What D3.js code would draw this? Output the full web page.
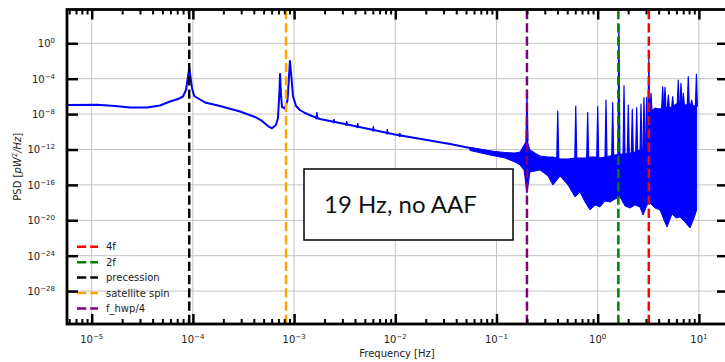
<!DOCTYPE html>
<html>
<head>
<meta charset="utf-8">
<script src="https://cdn.jsdelivr.net/npm/d3@7"></script>
<style>
  html, body { margin: 0; padding: 0; background: #fff; }
  svg { display: block; font-family: "DejaVu Sans", sans-serif; }
</style>
</head>
<body>
<div id="chart"></div>
<script>
// ----- DATA -----
// Smooth part of the PSD (frequency in Hz, PSD in pW^2/Hz)
const lineFreq = [5.5e-6, 1.13e-5, 1.70e-5, 2.39e-5, 3.52e-5, 4.73e-5, 5.94e-5, 7.13e-5, 7.98e-5, 8.55e-5,
  9.2e-5, 9.8e-5, 1.03e-4, 1.175e-4, 1.32e-4, 1.85e-4, 2.92e-4, 4.11e-4, 4.82e-4, 5.52e-4,
  6.05e-4, 6.62e-4, 6.93e-4, 7.18e-4, 7.26e-4, 7.43e-4, 7.59e-4, 8.13e-4, 8.61e-4, 9.1e-4,
  9.42e-4, 9.75e-4, 1.045e-3, 1.14e-3, 1.28e-3, 1.50e-3, 1.80e-3, 3.56e-3, 9.9e-3, 3.48e-2,
  5.47e-2, 0.108];
const linePsd = [1.07e-7, 1.15e-7, 8.2e-8, 5.57e-8, 5.6e-8, 9.4e-8, 2.65e-7, 5.08e-7, 9.75e-7, 5.28e-6,
  1.62e-3, 8.9e-6, 1.11e-6, 4.47e-7, 2.05e-7, 8.2e-8, 1.97e-8, 4.7e-9, 1.66e-9, 4.5e-10,
  2.48e-10, 5.9e-10, 3.6e-9, 5.3e-6, 3.4e-4, 1.44e-6, 6.3e-8, 4.3e-8, 3.9e-7, 1.0e-2,
  1.2e-4, 1.11e-6, 8.2e-8, 2.9e-8, 1.33e-8, 6.1e-9, 2.8e-9, 5.9e-10, 4.95e-11, 4.2e-12,
  1.48e-12, 4.0e-13];

// Small bumps sitting on the smooth part
const bumpFreq = [1.68e-3, 2.48e-3, 3.31e-3, 4.25e-3, 6.07e-3, 8.34e-3, 1.11e-2];
const bumpPsd = [1.7e-8, 2.8e-9, 1.66e-9, 9.9e-10, 4.5e-10, 2.07e-10, 7.3e-11];

// Noisy part: lower and upper envelope of the blue band
const bandFreq = [0.0547, 0.0863, 0.121, 0.152, 0.171, 0.187, 0.200, 0.214, 0.269, 0.323,
  0.361, 0.425, 0.509, 0.597, 0.668, 0.750, 0.840, 0.940, 1.054, 1.180,
  1.324, 1.483, 1.660, 1.862, 2.085, 2.339, 2.618, 2.805, 3.069, 3.289,
  3.681, 4.130, 4.519, 4.842, 5.420, 5.943, 6.501, 7.295, 8.166, 8.954, 9.5];
const bandHigh = [1.68e-12, 6.8e-13, 4.6e-13, 4.0e-13, 5.2e-13, 3.2e-12, 1.18e-11, 8.8e-13, 1.85e-13, 1.42e-13,
  1.42e-13, 8.5e-14, 8.5e-14, 1.10e-13, 1.10e-13, 1.10e-13, 1.42e-13, 1.42e-13, 1.10e-13, 1.42e-13,
  1.85e-13, 2.4e-13, 3.1e-13, 3.1e-13, 4.0e-13, 5.2e-13, 8.8e-13, 1.48e-12, 1.18e-11, 1.73e-8,
  4.9e-8, 3.77e-8, 8.2e-8, 4.9e-8, 6.3e-8, 1.38e-7, 1.80e-7, 1.07e-7, 1.38e-7, 8.2e-8, 1.07e-7];
const bandLow = [7.7e-13, 2.4e-13, 1.10e-13, 3.9e-14, 1.77e-14, 4.8e-15, 1.22e-17, 2.9e-15, 4.8e-15, 1.01e-15,
  9.8e-17, 1.01e-15, 9.8e-17, 4.3e-18, 1.58e-17, 1.17e-18, 1.46e-19, 5.4e-19, 3.2e-19, 1.52e-18,
  1.17e-18, 2.55e-18, 4.3e-18, 4.1e-19, 2.45e-19, 5.4e-19, 3.2e-19, 4.0e-20, 5.4e-19, 9.0e-19,
  2.45e-19, 1.46e-19, 1.08e-20, 1.75e-21, 5.2e-20, 1.82e-20, 2.36e-20, 6.4e-21, 1.35e-21, 1.82e-20, 1.46e-19];

// Narrow peaks sticking out of the noise
const peakFreq = [0.200, 0.403, 0.607, 0.796, 1.0, 1.208, 1.406, 1.62, 1.820, 2.006,
  2.198, 2.428, 2.679, 2.866, 3.048, 3.2, 3.365, 4.387, 4.624, 4.989,
  5.508, 6.252, 6.653, 7.015, 7.852, 8.49, 9.45];
const peakPsd = [1.44e-6, 2.24e-8, 8.2e-8, 1.6e-8, 6.9e-8, 3.9e-7, 1.94e-7, 1e2, 1.62e-5, 1.07e-7,
  3.5e-8, 5.3e-8, 1.38e-7, 7.1e-7, 7.9e-7, 1.5e-2, 2.24e-6, 1.25e-5, 1.07e-5, 1.44e-6,
  9.2e-7, 7.1e-5, 3.0e-5, 2.42e-6, 1.68e-4, 3.9e-7, 3.1e-4];

// Vertical marker lines (legend order)
const markerNames = ["4f", "2f", "precession", "satellite spin", "f_hwp/4"];
const markerFreq = [3.2, 1.6, 9.2e-5, 8.33e-4, 0.2];
const markerColors = ["red", "green", "black", "orange", "purple"];

// Ticks (powers of ten)
const xTickExp = [-5, -4, -3, -2, -1, 0, 1];
const yTickExp = [0, -4, -8, -12, -16, -20, -24, -28];

// ----- SIZES -----
const width = 725, height = 362;
const margins = { top: 9.5, right: -3, bottom: 38, left: 67 };
const x0 = margins.left, x1 = width - margins.right;
const yTop = margins.top, yBot = height - margins.bottom;

const svg = d3.select("#chart")
  .append("svg")
  .attr("width", width)
  .attr("height", height);

// ----- SCALES -----
const x = d3.scaleLog()
  .domain([10 ** -5.244, 10 ** 1.2876])
  .range([x0, x1]);

const y = d3.scaleLog()
  .domain([10 ** -31.72, 10 ** 3.819])
  .range([yBot, yTop]);

// Minor x ticks 2..9 x 10^k inside the domain
const xMinor = [];
for (let k = -6; k <= 1; k++) {
  for (let m = 2; m <= 9; m++) {
    const v = m * 10 ** k;
    if (v > x.domain()[0] && v < x.domain()[1]) xMinor.push(v);
  }
}
const xMajor = xTickExp.map(e => 10 ** e);
const yMajor = yTickExp.map(e => 10 ** e);

svg.append("defs").append("clipPath").attr("id", "plot")
  .append("rect")
  .attr("x", x0).attr("y", yTop)
  .attr("width", x1 - x0).attr("height", yBot - yTop);

// ----- GRID -----
const grid = svg.append("g").attr("stroke", "#c4c4c4").attr("stroke-width", 1);
grid.selectAll(".gx").data(xMajor).join("line")
  .attr("x1", d => x(d)).attr("x2", d => x(d))
  .attr("y1", yTop).attr("y2", yBot);
grid.selectAll(".gy").data(yMajor).join("line")
  .attr("class", "gy")
  .attr("x1", x0).attr("x2", x1)
  .attr("y1", d => y(d)).attr("y2", d => y(d));

// ----- DATA MARKS -----
const plot = svg.append("g").attr("clip-path", "url(#plot)");

// helper: piecewise interpolation in log-log space (used for spike bases)
function logInterp(xs, ys) {
  const s = d3.scaleLinear()
    .domain(xs.map(Math.log10))
    .range(ys.map(Math.log10))
    .clamp(true);
  return f => 10 ** s(Math.log10(f));
}
const lineAt = logInterp(lineFreq, linePsd);
const bandAt = logInterp(bandFreq, bandHigh);

const spikePath = (f, base, peak) => {
  const px = x(f), yb = y(base) + 1, yp = y(peak);
  return `M${px - 1},${yb}L${px},${yp}L${px + 1},${yb}Z`;
};

// noise band
const band = bandFreq.map((f, i) => ({ f, lo: bandLow[i], hi: bandHigh[i] }));
plot.append("path")
  .datum(band)
  .attr("fill", "blue")
  .attr("stroke", "blue")
  .attr("stroke-width", 1)
  .attr("d", d3.area()
    .x(d => x(d.f))
    .y0(d => y(d.lo))
    .y1(d => y(d.hi)));

// smooth line
plot.append("path")
  .datum(lineFreq.map((f, i) => [f, linePsd[i]]))
  .attr("fill", "none")
  .attr("stroke", "blue")
  .attr("stroke-width", 2)
  .attr("stroke-linejoin", "round")
  .attr("d", d3.line().x(d => x(d[0])).y(d => y(d[1])));

// bumps on the line
plot.selectAll(".bump")
  .data(bumpFreq.map((f, i) => [f, bumpPsd[i]]))
  .join("path")
  .attr("fill", "blue").attr("stroke", "blue").attr("stroke-width", 1)
  .attr("d", d => spikePath(d[0], lineAt(d[0]), d[1]));

// peaks in the noisy part
plot.selectAll(".peak")
  .data(peakFreq.map((f, i) => [f, peakPsd[i]]))
  .join("path")
  .attr("fill", "blue").attr("stroke", "blue").attr("stroke-width", 1.2)
  .attr("stroke-linejoin", "round")
  .attr("d", d => spikePath(d[0], bandAt(d[0]), d[1]));

// ----- MARKER LINES -----
plot.selectAll(".marker")
  .data(markerFreq)
  .join("line")
  .attr("x1", d => x(d)).attr("x2", d => x(d))
  .attr("y1", yBot).attr("y2", yTop)
  .attr("stroke", (d, i) => markerColors[i])
  .attr("stroke-width", 2.5)
  .attr("stroke-dasharray", "9.25,4");

// ----- TEXT BOX -----
const box = svg.append("g");
box.append("rect")
  .attr("x", 304).attr("y", 169)
  .attr("width", 209).attr("height", 71)
  .attr("fill", "white")
  .attr("stroke", "black")
  .attr("stroke-width", 1.5);
box.append("text")
  .attr("x", 324).attr("y", 213)
  .style("font-family", "Lato, 'Open Sans', sans-serif")
  .style("font-size", "24px")
  .attr("fill", "#111")
  .text("19 Hz, no AAF");

// ----- LEGEND -----
const legend = svg.append("g")
  .attr("transform", "translate(77, 246.8)");
markerNames.forEach((name, i) => {
  const g = legend.append("g").attr("transform", `translate(0, ${i * 15.4})`);
  g.append("line")
    .attr("x1", 0).attr("x2", 21)
    .attr("stroke", markerColors[i])
    .attr("stroke-width", 2.5)
    .attr("stroke-dasharray", "9.25,4");
  g.append("text")
    .attr("x", 29).attr("dy", "0.35em")
    .style("font-size", "10px")
    .attr("fill", "#222")
    .text(name);
});

// ----- TICKS (inward, on all four sides) -----
function ticks(axis, values, size, strokeW, transform) {
  const g = svg.append("g")
    .attr("transform", transform)
    .call(axis.tickValues(values).tickSize(size).tickFormat(""));
  g.select(".domain").remove();
  g.selectAll(".tick line").attr("stroke", "black").attr("stroke-width", strokeW);
}
ticks(d3.axisBottom(x), xMinor, -5, 2, `translate(0,${yBot})`);
ticks(d3.axisBottom(x), xMajor, -10, 2.5, `translate(0,${yBot})`);
ticks(d3.axisTop(x), xMinor, -5, 2, `translate(0,${yTop})`);
ticks(d3.axisTop(x), xMajor, -10, 2.5, `translate(0,${yTop})`);
ticks(d3.axisLeft(y), yMajor, -11, 2.5, `translate(${x0},0)`);
ticks(d3.axisRight(y), yMajor, -11, 2.5, `translate(${x1},0)`);

// spines
svg.append("rect")
  .attr("x", x0).attr("y", yTop)
  .attr("width", x1 - x0).attr("height", yBot - yTop)
  .attr("fill", "none")
  .attr("stroke", "black")
  .attr("stroke-width", 2.8);

// ----- TICK LABELS -----
const supText = e => (e < 0 ? "\u2212" + (-e) : String(e));

svg.append("g").selectAll("text")
  .data(xTickExp)
  .join("text")
  .attr("x", e => x(10 ** e))
  .attr("y", 343)
  .attr("text-anchor", "middle")
  .style("font-size", "10px")
  .attr("fill", "#222")
  .call(t => {
    t.append("tspan").text("10");
    t.append("tspan").attr("dy", -4).style("font-size", "7px").text(e => supText(e));
  });

svg.append("g").selectAll("text")
  .data(yTickExp)
  .join("text")
  .attr("x", 55)
  .attr("y", e => y(10 ** e) + 4)
  .attr("text-anchor", "end")
  .style("font-size", "10px")
  .attr("fill", "#222")
  .call(t => {
    t.append("tspan").text("10");
    t.append("tspan").attr("dy", -4).style("font-size", "7px").text(e => supText(e));
  });

// ----- AXIS TITLES -----
svg.append("text")
  .attr("x", (x0 + 728) / 2 - 0.5)
  .attr("y", 357)
  .attr("text-anchor", "middle")
  .style("font-size", "10px")
  .attr("fill", "#222")
  .text("Frequency [Hz]");

const yTitle = svg.append("text")
  .attr("transform", `translate(21, ${(yTop + yBot) / 2}) rotate(-90)`)
  .attr("text-anchor", "middle")
  .style("font-size", "10px")
  .attr("fill", "#222");
yTitle.append("tspan").text("PSD [");
yTitle.append("tspan").style("font-style", "italic").text("pW");
yTitle.append("tspan").attr("dy", -4).style("font-size", "7px").text("2");
yTitle.append("tspan").attr("dy", 4).style("font-style", "italic").text("/Hz");
yTitle.append("tspan").text("]");
</script>
</body>
</html>
